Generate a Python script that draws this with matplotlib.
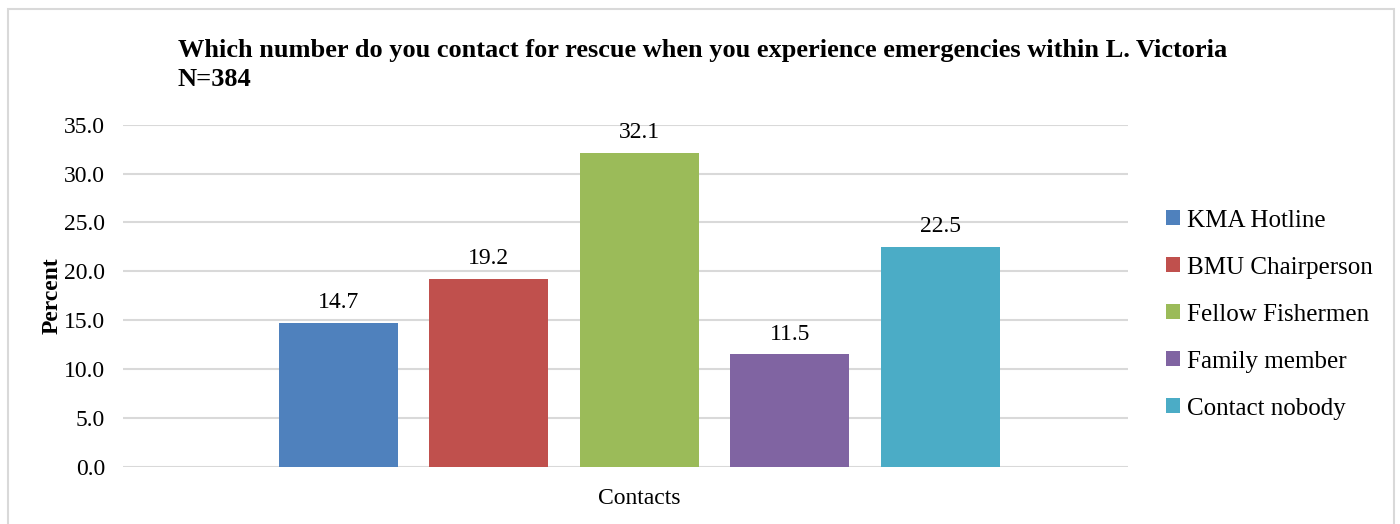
import numpy as np
import matplotlib.pyplot as plt
from matplotlib.patches import Rectangle

plt.rcParams['font.family'] = ['Liberation Serif', 'DejaVu Serif']

# datos
grupo = "Contacts"
contactos = ["KMA Hotline", "BMU Chairperson", "Fellow Fishermen", "Family member", "Contact nobody"]
porcentajes = [14.7, 19.2, 32.1, 11.5, 22.5]
colores = ["#4F81BD", "#C0504D", "#9BBB59", "#8064A2", "#4BACC6"]

fig = plt.figure(figsize=(14, 5.24), dpi=100)
ax = fig.add_axes([0.088, 0.109, 0.718, 0.653])

# borde del grafico
fig.patches.append(Rectangle((0.006, -0.01), 0.99, 0.993, transform=fig.transFigure,
                             fill=False, edgecolor="#d9d9d9", linewidth=1.5))

n = len(contactos)
pos = np.arange(n) - (n - 1) / 2
for x, v, c, lab in zip(pos, porcentajes, colores, contactos):
    ax.bar(x, v, width=0.79, color=c, label=lab, zorder=3)
    ax.text(x, v + 1.0, f"{v:.1f}", ha="center", va="bottom", fontsize=17)

ax.set_ylim(0, 35)
ax.set_xlim(-3.43, 3.25)
ax.set_yticks(np.arange(0, 36, 5))
ax.set_yticklabels([f"{t:.1f}" for t in np.arange(0, 36, 5)], fontsize=17)
ax.set_xticks([0])
ax.set_xticklabels([grupo], fontsize=17)
ax.tick_params(length=0)
ax.tick_params(axis="x", pad=15)
ax.tick_params(axis="y", pad=13)
ax.grid(axis="y", color="#d9d9d9", linewidth=1.5, zorder=0)
for s in ax.spines.values():
    s.set_visible(False)

ax.set_ylabel("Percent", fontsize=17, fontweight="bold", labelpad=1)

fig.text(0.127, 0.826, "Which number do you contact for rescue when you experience emergencies within L. Victoria\nN=384",
         fontsize=19, fontweight="bold", ha="left", va="bottom", linespacing=1.35)

ax.legend(loc="center left", bbox_to_anchor=(1.015, 0.445), frameon=False, fontsize=18,
          handlelength=0.55, handleheight=0.55, handletextpad=0.3, labelspacing=1.0)

fig.savefig("out.png", dpi=100)
